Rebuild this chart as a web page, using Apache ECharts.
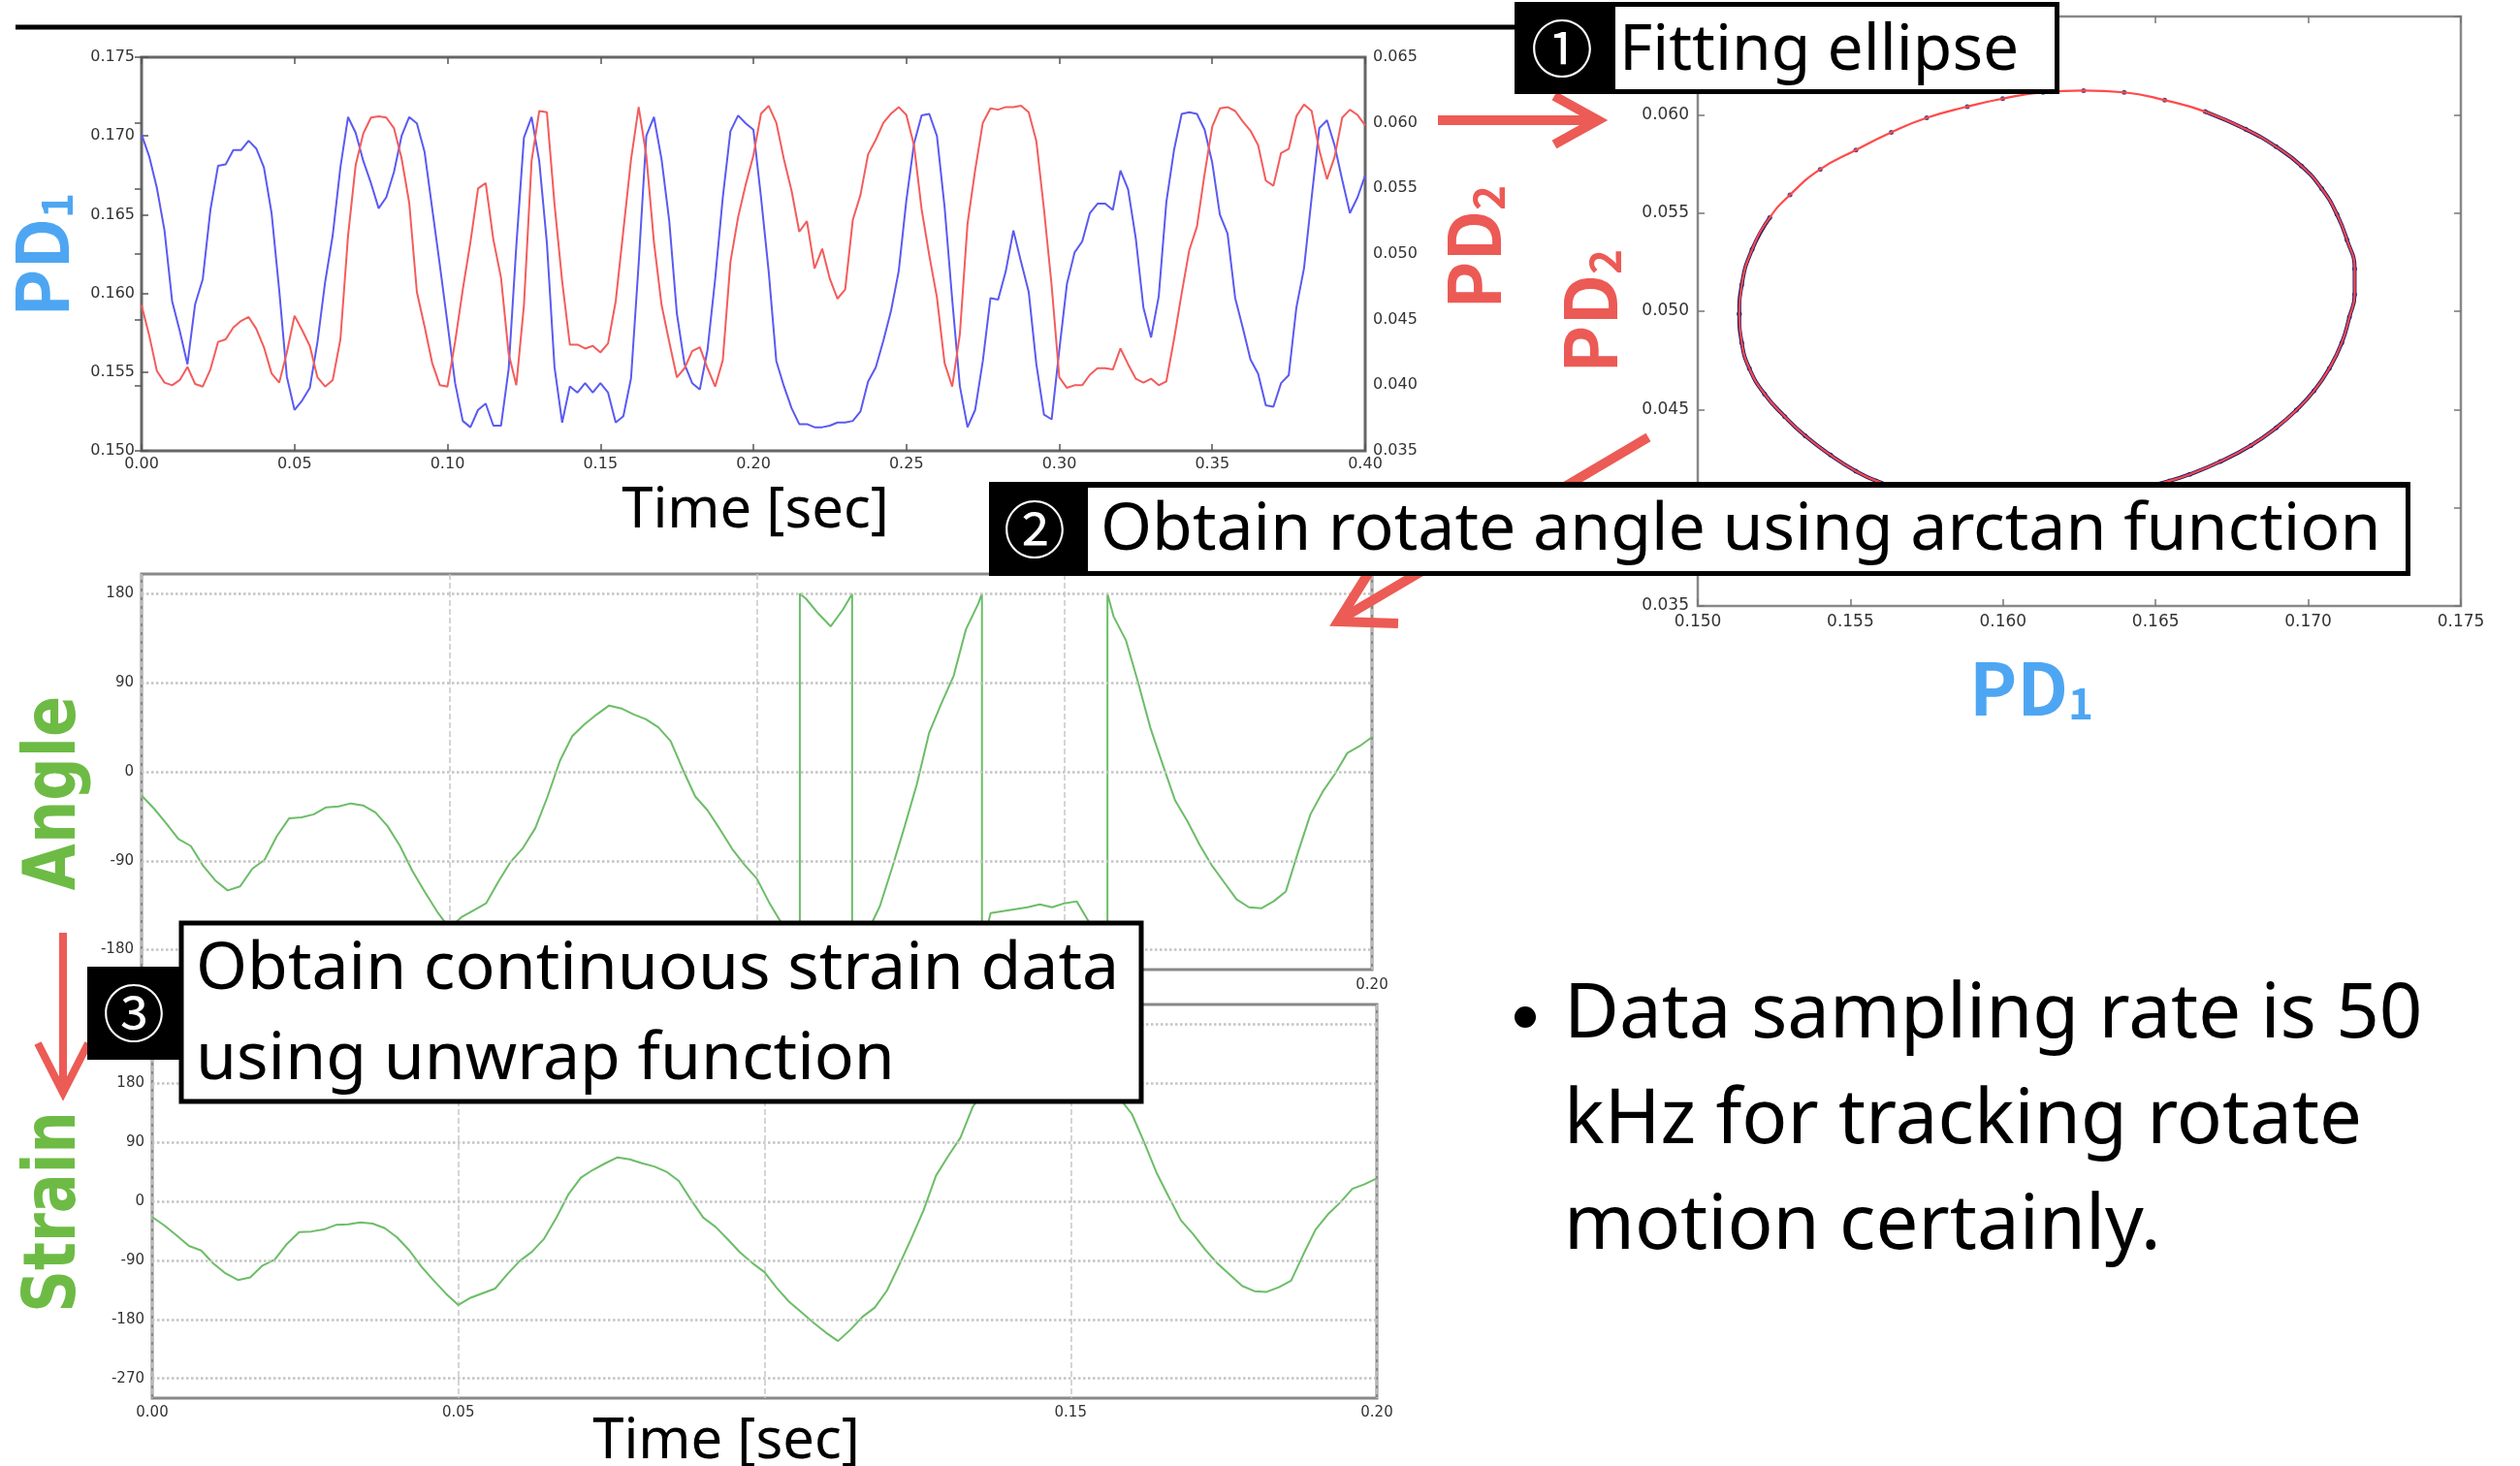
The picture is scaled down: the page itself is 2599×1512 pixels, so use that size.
<!DOCTYPE html>
<html>
<head>
<meta charset="utf-8">
<title>Rotation angle tracking</title>
<script src="https://cdn.jsdelivr.net/npm/echarts@6/dist/echarts.min.js"></script>
<style>
  html, body { margin: 0; padding: 0; background: #fff; }
  #chart { width: 2599px; height: 1512px; }
</style>
</head>
<body>
<div id="chart"></div>
<script>
// raw photodiode signals, 0 - 0.4 s
const timeTop = [
  0,0.0025,0.005,0.0075,0.01,0.0125,0.015,0.0175,0.02,0.0225,
  0.025,0.0275,0.03,0.0325,0.035,0.0375,0.04,0.0425,0.045,0.0475,
  0.05,0.0525,0.055,0.0575,0.06,0.0625,0.065,0.0675,0.07,0.0725,
  0.075,0.0775,0.08,0.0825,0.085,0.0875,0.09,0.0925,0.095,0.0975,
  0.1,0.1025,0.105,0.1075,0.11,0.1125,0.115,0.1175,0.12,0.1225,
  0.125,0.1275,0.13,0.1325,0.135,0.1375,0.14,0.1425,0.145,0.1475,
  0.15,0.1525,0.155,0.1575,0.16,0.1625,0.165,0.1675,0.17,0.1725,
  0.175,0.1775,0.18,0.1825,0.185,0.1875,0.19,0.1925,0.195,0.1975,
  0.2,0.2025,0.205,0.2075,0.21,0.2125,0.215,0.2175,0.22,0.2225,
  0.225,0.2275,0.23,0.2325,0.235,0.2375,0.24,0.2425,0.245,0.2475,
  0.25,0.2525,0.255,0.2575,0.26,0.2625,0.265,0.2675,0.27,0.2725,
  0.275,0.2775,0.28,0.2825,0.285,0.2875,0.29,0.2925,0.295,0.2975,
  0.3,0.3025,0.305,0.3075,0.31,0.3125,0.315,0.3175,0.32,0.3225,
  0.325,0.3275,0.33,0.3325,0.335,0.3375,0.34,0.3425,0.345,0.3475,
  0.35,0.3525,0.355,0.3575,0.36,0.3625,0.365,0.3675,0.37,0.3725,
  0.375,0.3775,0.38,0.3825,0.385,0.3875,0.39,0.3925,0.395,0.3975,
  0.4
];
const pd1Top = [
  0.1701,0.1687,0.1667,0.1640,0.1595,0.1576,0.1555,0.1593,0.1609,0.1653,
  0.1681,0.1682,0.1691,0.1691,0.1697,0.1692,0.1680,0.1651,0.1602,0.1547,
  0.1526,0.1532,0.1540,0.1569,0.1607,0.1637,0.1680,0.1712,0.1702,0.1684,
  0.1670,0.1654,0.1661,0.1677,0.1700,0.1712,0.1708,0.1690,0.1654,0.1618,
  0.1581,0.1543,0.1519,0.1515,0.1526,0.1530,0.1516,0.1516,0.1552,0.1630,
  0.1699,0.1712,0.1684,0.1632,0.1553,0.1518,0.1541,0.1537,0.1543,0.1537,
  0.1543,0.1537,0.1518,0.1522,0.1546,0.1619,0.1700,0.1712,0.1685,0.1646,
  0.1587,0.1555,0.1543,0.1539,0.1564,0.1609,0.1661,0.1703,0.1713,0.1708,
  0.1704,0.1661,0.1614,0.1557,0.1541,0.1527,0.1517,0.1517,0.1515,0.1515,
  0.1516,0.1518,0.1518,0.1519,0.1525,0.1544,0.1553,0.1570,0.1589,0.1614,
  0.1659,0.1695,0.1713,0.1714,0.1700,0.1655,0.1596,0.1541,0.1515,0.1526,
  0.1557,0.1597,0.1596,0.1614,0.1640,0.1620,0.1601,0.1555,0.1523,0.1520,
  0.1564,0.1606,0.1626,0.1633,0.1651,0.1657,0.1657,0.1653,0.1678,0.1666,
  0.1635,0.1591,0.1572,0.1598,0.1658,0.1691,0.1714,0.1715,0.1714,0.1704,
  0.1683,0.1650,0.1638,0.1597,0.1578,0.1558,0.1549,0.1529,0.1528,0.1543,
  0.1548,0.1591,0.1616,0.1661,0.1705,0.1710,0.1694,0.1672,0.1651,0.1661,
  0.1675
];
const pd2Top = [
  0.0461,0.0438,0.0411,0.0402,0.0400,0.0404,0.0414,0.0401,0.0399,0.0412,
  0.0433,0.0435,0.0444,0.0449,0.0452,0.0443,0.0429,0.0409,0.0402,0.0425,
  0.0453,0.0442,0.0430,0.0406,0.0399,0.0404,0.0435,0.0514,0.0568,0.0592,
  0.0604,0.0605,0.0604,0.0596,0.0573,0.0539,0.0471,0.0445,0.0417,0.0400,
  0.0399,0.0433,0.0473,0.0509,0.0550,0.0554,0.0511,0.0482,0.0424,0.0400,
  0.0461,0.0571,0.0609,0.0608,0.0538,0.0479,0.0431,0.0431,0.0428,0.0430,
  0.0425,0.0432,0.0464,0.0518,0.0572,0.0612,0.0575,0.0509,0.0461,0.0433,
  0.0406,0.0413,0.0426,0.0429,0.0413,0.0399,0.0419,0.0494,0.0528,0.0553,
  0.0575,0.0607,0.0613,0.0600,0.0572,0.0548,0.0517,0.0525,0.0489,0.0504,
  0.0481,0.0466,0.0473,0.0526,0.0545,0.0576,0.0587,0.0600,0.0607,0.0612,
  0.0606,0.0583,0.0534,0.0499,0.0467,0.0417,0.0399,0.0439,0.0523,0.0564,
  0.0600,0.0611,0.0610,0.0612,0.0612,0.0613,0.0608,0.0586,0.0534,0.0476,
  0.0406,0.0398,0.0400,0.0400,0.0408,0.0413,0.0413,0.0412,0.0428,0.0416,
  0.0405,0.0402,0.0405,0.0400,0.0403,0.0435,0.0470,0.0503,0.0521,0.0561,
  0.0597,0.0611,0.0612,0.0609,0.0601,0.0594,0.0583,0.0556,0.0552,0.0577,
  0.0580,0.0605,0.0614,0.0609,0.0579,0.0557,0.0574,0.0604,0.0610,0.0606,
  0.0598
];

// PD1 vs PD2 : fitted ellipse and measured points
const fitPD1 = [0.15136,0.15144,0.15178,0.15236,0.15302,0.15401,0.15518,0.15634,0.15750,0.15883,0.15999,0.16131,
  0.16264,0.16397,0.16530,0.16662,0.16795,0.16895,0.16978,0.17044,0.17094,0.17127,0.17152,0.17152,
  0.17135,0.17110,0.17069,0.17019,0.16961,0.16895,0.16812,0.16712,0.16612,0.16546,0.16397,0.16214,
  0.16032,0.15883,0.15717,0.15584,0.15518,0.15435,0.15352,0.15285,0.15219,0.15169,0.15144,0.15136];
const fitPD2 = [0.04987,0.05134,0.05314,0.05477,0.05592,0.05722,0.05820,0.05910,0.05984,0.06041,0.06082,0.06114,
  0.06123,0.06114,0.06074,0.06016,0.05926,0.05837,0.05739,0.05624,0.05493,0.05363,0.05216,0.05085,
  0.04971,0.04840,0.04709,0.04595,0.04497,0.04407,0.04317,0.04235,0.04170,0.04137,0.04080,0.04031,
  0.04015,0.04031,0.04072,0.04137,0.04186,0.04268,0.04366,0.04464,0.04578,0.04709,0.04840,0.04987];
const measPD1 = [0.16662,0.16795,0.16895,0.16978,0.17044,0.17094,0.17127,0.17152,0.17152,0.17135,0.17110,0.17069,
  0.17019,0.16961,0.16895,0.16812,0.16712,0.16612,0.16546,0.16397,0.16214,0.16032,0.15883,0.15717,
  0.15584,0.15518,0.15435,0.15352,0.15285,0.15219,0.15169,0.15144,0.15136,0.15144,0.15178,0.15236];
const measPD2 = [0.06016,0.05926,0.05837,0.05739,0.05624,0.05493,0.05363,0.05216,0.05085,0.04971,0.04840,0.04709,
  0.04595,0.04497,0.04407,0.04317,0.04235,0.04170,0.04137,0.04080,0.04031,0.04015,0.04031,0.04072,
  0.04137,0.04186,0.04268,0.04366,0.04464,0.04578,0.04709,0.04840,0.04987,0.05134,0.05314,0.05477];

// unwrapped strain, 0 - 0.2 s
const timeStrain = [
  0,0.002,0.004,0.006,0.008,0.01,0.012,0.014,0.016,0.018,
  0.02,0.022,0.024,0.026,0.028,0.03,0.032,0.034,0.036,0.038,
  0.04,0.042,0.044,0.046,0.048,0.05,0.052,0.054,0.056,0.058,
  0.06,0.062,0.064,0.066,0.068,0.07,0.072,0.074,0.076,0.078,
  0.08,0.082,0.084,0.086,0.088,0.09,0.092,0.094,0.096,0.098,
  0.1,0.102,0.104,0.106,0.108,0.11,0.112,0.114,0.116,0.118,
  0.12,0.122,0.124,0.126,0.128,0.13,0.132,0.134,0.136,0.138,
  0.14,0.142,0.144,0.146,0.148,0.15,0.152,0.154,0.156,0.158,
  0.16,0.162,0.164,0.166,0.168,0.17,0.172,0.174,0.176,0.178,
  0.18,0.182,0.184,0.186,0.188,0.19,0.192,0.194,0.196,0.198,
  0.2
];
const strainDeg = [
  -24,-37,-52,-68,-75,-95,-110,-120,-116,-98,
  -89,-65,-47,-46,-43,-36,-35,-32,-34,-41,
  -55,-75,-100,-121,-141,-158,-147,-140,-133,-111,
  -91,-77,-57,-25,11,36,48,58,67,64,
  58,53,45,31,2,-25,-39,-58,-78,-94,
  -108,-132,-153,-169,-185,-200,-213,-196,-176,-162,
  -136,-97,-56,-13,39,69,97,144,170,217,
  219,221,223,226,223,227,229,208,190,157,
  133,90,44,7,-29,-50,-74,-95,-112,-129,
  -137,-138,-131,-121,-81,-43,-20,-2,19,26,
  35
];

// arctan angle (wrapped at +-180), 0 - 0.2 s
const angleTime = [
  0,0.002,0.004,0.006,0.008,0.01,0.012,0.014,0.016,0.018,
  0.02,0.022,0.024,0.026,0.028,0.03,0.032,0.034,0.036,0.038,
  0.04,0.042,0.044,0.046,0.048,0.05,0.052,0.054,0.056,0.058,
  0.06,0.062,0.064,0.066,0.068,0.07,0.072,0.074,0.076,0.078,
  0.08,0.082,0.084,0.086,0.088,0.09,0.092,0.094,0.096,0.098,
  0.1,0.102,0.104,0.106,
  0.107,0.107,0.108,0.11,0.112,0.114,0.1155,0.1155,
  0.116,0.118,0.12,0.122,0.124,0.126,0.128,0.13,0.132,0.134,0.136,
  0.1366,0.1366,
  0.138,0.14,0.142,0.144,0.146,0.148,0.15,0.152,0.154,0.156,
  0.157,0.157,
  0.158,0.16,0.162,0.164,0.166,0.168,0.17,0.172,0.174,0.176,0.178,
  0.18,0.182,0.184,0.186,0.188,0.19,0.192,0.194,0.196,0.198,0.2
];
const angleDeg = [
  -24,-37,-52,-68,-75,-95,-110,-120,-116,-98,
  -89,-65,-47,-46,-43,-36,-35,-32,-34,-41,
  -55,-75,-100,-121,-141,-158,-147,-140,-133,-111,
  -91,-77,-57,-25,11,36,48,58,67,64,
  58,53,45,31,2,-25,-39,-58,-78,-94,
  -108,-132,-153,-169,
  -180,180,175,160,147,164,180,-180,
  -176,-162,-136,-97,-56,-13,39,69,97,144,170,
  180,-180,
  -143,-141,-139,-137,-134,-137,-133,-131,-152,-170,
  -180,180,
  157,133,90,44,7,-29,-50,-74,-95,-112,-129,
  -137,-138,-131,-121,-81,-43,-20,-2,19,26,35
];

const angleTicks = [-180, -90, 0, 90, 180];
const strainTicks = [-270, -180, -90, 0, 90, 180, 270];

const BLUE = '#5a5af2';
const RED = '#f45c5c';
const GREEN = '#6cbd68';
const LBL_BLUE = '#4ea6f2';
const LBL_RED = '#ec5a55';
const LBL_GREEN = '#6dbb45';
const ARROW = '#ec5b55';
const TICK_FONT = 'DejaVu Sans';
const TXT_FONT = 'Noto Sans';

const pair = (xs, ys) => xs.map((x, i) => [x, ys[i]]);

const chart = echarts.init(document.getElementById('chart'), null, { renderer: 'canvas' });

const tickLabel = (digits, size) => ({
  fontFamily: TICK_FONT, fontSize: size, color: '#333',
  formatter: v => Number(v).toFixed(digits)
});

const option = {
  animation: false,
  backgroundColor: '#fff',
  grid: [
    { left: 146, top: 59, width: 1262, height: 406, show: true, borderColor: '#666', borderWidth: 3 },
    { left: 1751, top: 17, width: 787, height: 608, show: true, borderColor: '#888', borderWidth: 2.5 },
    { left: 146, top: 592, width: 1269, height: 408, show: true, borderColor: '#888', borderWidth: 3 },
    { left: 157, top: 1036, width: 1263, height: 406, show: true, borderColor: '#888', borderWidth: 3 }
  ],
  xAxis: [
    { type: 'value', gridIndex: 0, min: 0, max: 0.4, interval: 0.05,
      axisLine: { show: false }, splitLine: { show: false },
      axisTick: { inside: true, length: 7, lineStyle: { color: '#555', width: 1.5 } },
      axisLabel: Object.assign(tickLabel(2, 16), { margin: 6 }) },
    { type: 'value', gridIndex: 0, position: 'top', min: 0, max: 0.4, interval: 0.05,
      axisLine: { show: false }, splitLine: { show: false }, axisLabel: { show: false },
      axisTick: { inside: true, length: 7, lineStyle: { color: '#555', width: 1.5 } } },
    { type: 'value', gridIndex: 1, min: 0.15, max: 0.175, interval: 0.005,
      axisLine: { show: false }, splitLine: { show: false },
      axisTick: { inside: true, length: 7, lineStyle: { color: '#777', width: 1.5 } },
      axisLabel: Object.assign(tickLabel(3, 17), { margin: 8 }) },
    { type: 'value', gridIndex: 1, position: 'top', min: 0.15, max: 0.175, interval: 0.005,
      axisLine: { show: false }, splitLine: { show: false }, axisLabel: { show: false },
      axisTick: { inside: true, length: 7, lineStyle: { color: '#777', width: 1.5 } } },
    { type: 'value', gridIndex: 2, min: 0, max: 0.2, interval: 0.05,
      axisLine: { show: false }, axisTick: { show: false },
      splitLine: { show: true, lineStyle: { color: '#c8c8c8', type: 'dashed', width: 1.5 } },
      axisLabel: Object.assign(tickLabel(2, 15), { margin: 9 }) },
    { type: 'value', gridIndex: 3, min: 0, max: 0.2, interval: 0.05,
      axisLine: { show: false }, axisTick: { show: false },
      splitLine: { show: true, lineStyle: { color: '#c8c8c8', type: 'dashed', width: 1.5 } },
      axisLabel: Object.assign(tickLabel(2, 15), { margin: 8 }) }
  ],
  yAxis: [
    { type: 'value', gridIndex: 0, min: 0.15, max: 0.175, interval: 0.005,
      axisLine: { show: false }, splitLine: { show: false },
      axisTick: { inside: true, length: 7, lineStyle: { color: '#555', width: 1.5 } },
      axisLabel: Object.assign(tickLabel(3, 16), { margin: 7 }) },
    { type: 'value', gridIndex: 0, position: 'right', min: 0.035, max: 0.065, interval: 0.005,
      axisLine: { show: false }, splitLine: { show: false },
      axisTick: { inside: true, length: 7, lineStyle: { color: '#555', width: 1.5 } },
      axisLabel: Object.assign(tickLabel(3, 16), { margin: 8 }) },
    { type: 'value', gridIndex: 1, min: 0.035, max: 0.065, interval: 0.005,
      axisLine: { show: false }, splitLine: { show: false },
      axisTick: { inside: true, length: 7, lineStyle: { color: '#777', width: 1.5 } },
      axisLabel: Object.assign(tickLabel(3, 17), { margin: 9 }) },
    { type: 'value', gridIndex: 1, position: 'right', min: 0.035, max: 0.065, interval: 0.005,
      axisLine: { show: false }, splitLine: { show: false }, axisLabel: { show: false },
      axisTick: { inside: true, length: 7, lineStyle: { color: '#777', width: 1.5 } } },
    { type: 'value', gridIndex: 2, min: -200, max: 200,
      axisLine: { show: false }, splitLine: { show: false },
      axisTick: { show: false },
      axisLabel: { fontFamily: TICK_FONT, fontSize: 15, color: '#333', margin: 8, customValues: angleTicks } },
    { type: 'value', gridIndex: 3, min: -300, max: 300,
      axisLine: { show: false }, splitLine: { show: false },
      axisTick: { show: false },
      axisLabel: { fontFamily: TICK_FONT, fontSize: 15, color: '#333', margin: 8, customValues: strainTicks } }
  ],
  series: [
    { name: 'PD1', type: 'line', xAxisIndex: 0, yAxisIndex: 0, data: pair(timeTop, pd1Top),
      showSymbol: false, lineStyle: { color: BLUE, width: 2 }, z: 3 },
    { name: 'PD2', type: 'line', xAxisIndex: 0, yAxisIndex: 1, data: pair(timeTop, pd2Top),
      showSymbol: false, lineStyle: { color: RED, width: 2 }, z: 3 },
    { name: 'measured', type: 'line', xAxisIndex: 2, yAxisIndex: 2, data: pair(measPD1, measPD2),
      showSymbol: false, smooth: true, lineStyle: { color: '#1d1d6b', width: 4 }, z: 2 },
    { name: 'points', type: 'scatter', xAxisIndex: 2, yAxisIndex: 2, data: pair(fitPD1, fitPD2),
      symbolSize: 5, itemStyle: { color: '#1d1d6b' }, z: 2 },
    { name: 'fit', type: 'line', xAxisIndex: 2, yAxisIndex: 2, data: pair(fitPD1, fitPD2),
      showSymbol: false, smooth: true, lineStyle: { color: '#ff4a4a', width: 2.2 }, z: 4 },
    { name: 'angle', type: 'line', xAxisIndex: 4, yAxisIndex: 4, data: pair(angleTime, angleDeg),
      showSymbol: false, lineStyle: { color: GREEN, width: 2 }, z: 3,
      markLine: { silent: true, symbol: ['none', 'none'], label: { show: false },
        lineStyle: { color: '#c4c4c4', type: 'dotted', width: 2.5 },
        data: angleTicks.map(v => ({ yAxis: v })) } },
    { name: 'strain', type: 'line', xAxisIndex: 5, yAxisIndex: 5, data: pair(timeStrain, strainDeg),
      showSymbol: false, lineStyle: { color: GREEN, width: 2 }, z: 3,
      markLine: { silent: true, symbol: ['none', 'none'], label: { show: false },
        lineStyle: { color: '#c4c4c4', type: 'dotted', width: 2.5 },
        data: strainTicks.map(v => ({ yAxis: v })) } }
  ],
  graphic: { elements: [] }
};

// text helpers
function txt(x, y, text, size, opts) {
  opts = opts || {};
  return {
    type: 'text', x: x, y: y, z: opts.z || 120,
    rotation: opts.rotation || 0, scaleX: opts.scaleX || 1,
    style: {
      text: text, fill: opts.color || '#000',
      fontSize: size, fontFamily: opts.font || TXT_FONT, fontWeight: opts.weight || 'normal',
      align: opts.align || 'left', verticalAlign: 'middle',
      textAlign: opts.align || 'left', textVerticalAlign: 'middle'
    }
  };
}
function pdLabel(x, y, sub, color, rotation) {
  return {
    type: 'text', x: x, y: y, z: 120, rotation: rotation || 0,
    style: {
      text: '{m|PD}{s|' + sub + '}', fill: color,
      align: 'center', verticalAlign: 'middle', textAlign: 'center', textVerticalAlign: 'middle',
      rich: {
        m: { fontSize: 74, fontFamily: 'Noto Sans CJK JP', fontWeight: 'bold', fill: color },
        s: { fontSize: 44, fontFamily: 'Noto Sans CJK JP', fontWeight: 'bold', fill: color, verticalAlign: 'bottom' }
      }
    }
  };
}
const line = (x1, y1, x2, y2, color, w, z) => ({
  type: 'line', z: z || 100, shape: { x1, y1, x2, y2 }, style: { stroke: color, lineWidth: w }
});
const poly = (pts, color, w) => ({
  type: 'polyline', z: 100, shape: { points: pts }, style: { stroke: color, lineWidth: w, fill: null, lineJoin: 'miter' }
});
const rect = (x, y, w, h, fill, z, stroke, lw) => ({
  type: 'rect', z: z, shape: { x, y, width: w, height: h },
  style: { fill: fill, stroke: stroke || null, lineWidth: lw || 0 }
});

const g = option.graphic.elements;
// header rule
g.push(line(16, 28, 1565, 28, '#000', 5, 100));
// arrow 1 : signals -> ellipse
g.push(line(1483, 124, 1644, 124, ARROW, 10));
g.push(poly([[1603, 99], [1648, 124], [1603, 149]], ARROW, 10));
// arrow 2 : ellipse -> angle
g.push(line(1700, 451, 1382, 639, ARROW, 10));
g.push(poly([[1412, 590], [1380, 641], [1442, 643]], ARROW, 10));
// arrow 3 : angle -> strain
g.push(line(65, 962, 65, 1124, ARROW, 8));
g.push(poly([[39, 1076], [65, 1127], [91, 1076]], ARROW, 8));

// white patch under lower "Time [sec]"
g.push(rect(566, 1446, 368, 66, '#fff', 105));

// box 1
g.push(rect(1562, 2, 562, 95, '#000', 110));
g.push(rect(1666, 7, 453, 85, '#fff', 111));
g.push(txt(1611, 50, '①', 64, { color: '#fff', font: 'Noto Sans CJK JP', align: 'center' }));
g.push(txt(1670, 53, 'Fitting ellipse', 66));
// box 2
g.push(rect(1020, 497, 1466, 97, '#000', 110));
g.push(rect(1122, 503, 1359, 86, '#fff', 111));
g.push(txt(1067, 546, '②', 64, { color: '#fff', font: 'Noto Sans CJK JP', align: 'center' }));
g.push(txt(1135, 548, 'Obtain rotate angle using arctan function', 68));
// box 3
g.push(rect(187, 952, 990, 184, '#fff', 110, '#000', 5));
g.push(rect(90, 997, 98, 96, '#000', 111));
g.push(txt(138, 1045, '③', 64, { color: '#fff', font: 'Noto Sans CJK JP', align: 'center' }));
g.push(txt(202, 1001, 'Obtain continuous strain data', 68));
g.push(txt(202, 1094, 'using unwrap function', 68));

// axis titles
g.push(pdLabel(43, 263, '1', LBL_BLUE, Math.PI / 2));
g.push(pdLabel(1520, 255, '2', LBL_RED, Math.PI / 2));
g.push(pdLabel(1640, 321, '2', LBL_RED, Math.PI / 2));
g.push(pdLabel(2095, 710, '1', LBL_BLUE, 0));
g.push(txt(58, 818, 'Angle', 74, { color: LBL_GREEN, font: 'DejaVu Sans', weight: 'bold', align: 'center', rotation: Math.PI / 2, scaleX: 0.84 }));
g.push(txt(58, 1250, 'Strain', 74, { color: LBL_GREEN, font: 'DejaVu Sans', weight: 'bold', align: 'center', rotation: Math.PI / 2, scaleX: 0.82 }));
g.push(txt(779, 527, 'Time [sec]', 58, { align: 'center' }));
g.push(txt(749, 1487, 'Time [sec]', 58, { align: 'center' }));

// bullet note
g.push({ type: 'circle', z: 120, shape: { cx: 1573, cy: 1049, r: 11 }, style: { fill: '#000' } });
g.push(txt(1613, 1048, 'Data sampling rate is 50', 78));
g.push(txt(1613, 1157, 'kHz for tracking rotate', 78));
g.push(txt(1613, 1266, 'motion certainly.', 78));

chart.setOption(option);
window.addEventListener('resize', () => chart.resize());
</script>
</body>
</html>
